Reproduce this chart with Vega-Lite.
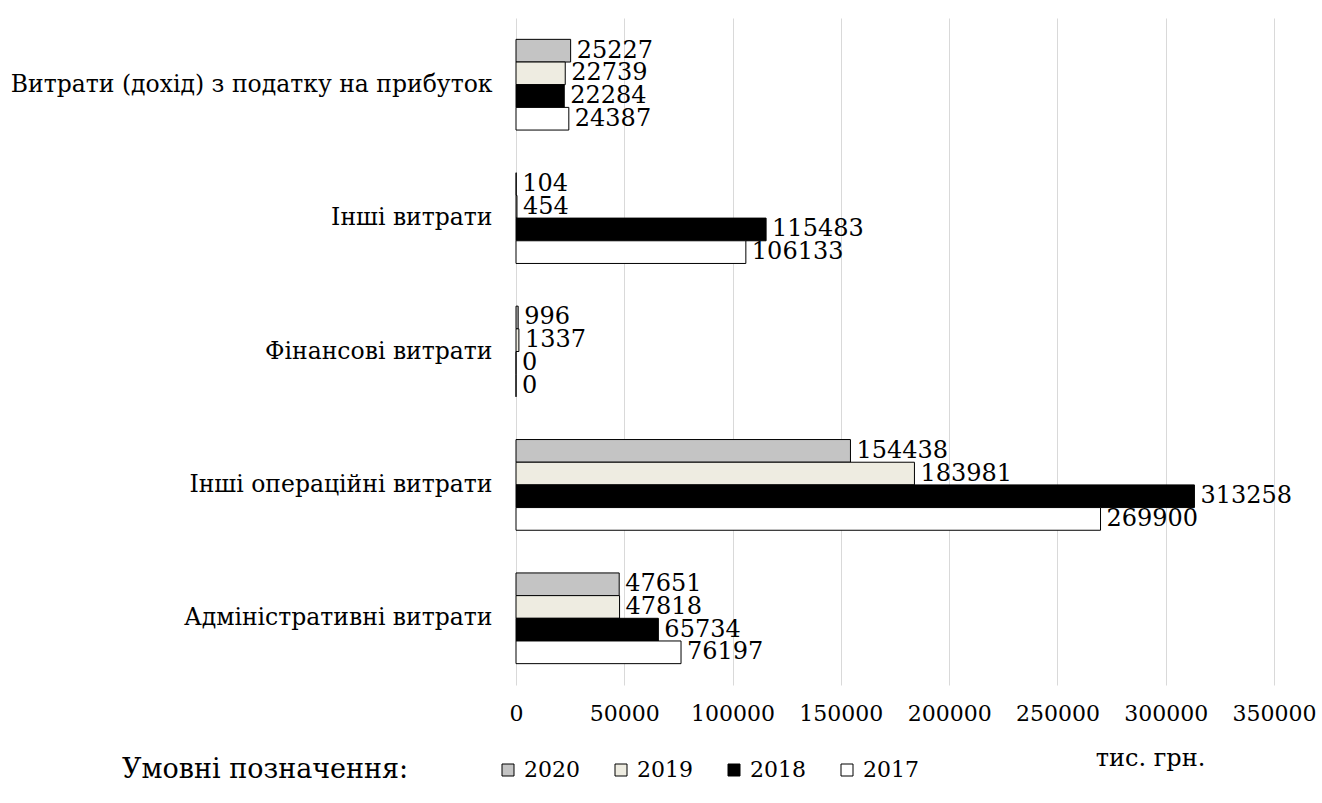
{
  "$schema": "https://vega.github.io/schema/vega-lite/v6.json",
  "width": 758,
  "height": 667,
  "autosize": {"type": "none"},
  "padding": {"left": 516, "top": 18, "right": 48, "bottom": 118},
  "background": "white",
  "config": {
    "font": "DejaVu Serif",
    "view": {"stroke": null}
  },
  "data": {
    "values": [
      {"category": "Витрати (дохід) з податку на прибуток", "year": "2020", "value": 25227},
      {"category": "Витрати (дохід) з податку на прибуток", "year": "2019", "value": 22739},
      {"category": "Витрати (дохід) з податку на прибуток", "year": "2018", "value": 22284},
      {"category": "Витрати (дохід) з податку на прибуток", "year": "2017", "value": 24387},
      {"category": "Інші витрати", "year": "2020", "value": 104},
      {"category": "Інші витрати", "year": "2019", "value": 454},
      {"category": "Інші витрати", "year": "2018", "value": 115483},
      {"category": "Інші витрати", "year": "2017", "value": 106133},
      {"category": "Фінансові витрати", "year": "2020", "value": 996},
      {"category": "Фінансові витрати", "year": "2019", "value": 1337},
      {"category": "Фінансові витрати", "year": "2018", "value": 0},
      {"category": "Фінансові витрати", "year": "2017", "value": 0},
      {"category": "Інші операційні витрати", "year": "2020", "value": 154438},
      {"category": "Інші операційні витрати", "year": "2019", "value": 183981},
      {"category": "Інші операційні витрати", "year": "2018", "value": 313258},
      {"category": "Інші операційні витрати", "year": "2017", "value": 269900},
      {"category": "Адміністративні витрати", "year": "2020", "value": 47651},
      {"category": "Адміністративні витрати", "year": "2019", "value": 47818},
      {"category": "Адміністративні витрати", "year": "2018", "value": 65734},
      {"category": "Адміністративні витрати", "year": "2017", "value": 76197}
    ]
  },
  "encoding": {
    "y": {
      "field": "category",
      "type": "nominal",
      "sort": ["Витрати (дохід) з податку на прибуток", "Інші витрати", "Фінансові витрати", "Інші операційні витрати", "Адміністративні витрати"],
      "scale": {"paddingInner": 0.32, "paddingOuter": 0.16},
      "axis": {"title": null, "domain": false, "ticks": false, "grid": false, "labelFontSize": 23.5, "labelPadding": 24, "labelColor": "black", "labelLimit": 520}
    },
    "yOffset": {
      "field": "year",
      "type": "nominal",
      "sort": ["2020", "2019", "2018", "2017"],
      "scale": {"paddingInner": 0, "paddingOuter": 0}
    },
    "x": {
      "field": "value",
      "type": "quantitative",
      "scale": {"domain": [0, 350000], "nice": false},
      "axis": {
        "values": [0, 50000, 100000, 150000, 200000, 250000, 300000, 350000],
        "format": "d",
        "domain": false,
        "ticks": false,
        "grid": true,
        "gridColor": "#d9d9d9",
        "gridWidth": 1,
        "labelFontSize": 22,
        "labelColor": "black",
        "labelPadding": 18,
        "labelOverlap": false,
        "labelBound": false,
        "labelFlush": false,
        "title": "тис. грн.",
        "titleFontSize": 24,
        "titleFontWeight": "normal",
        "titleColor": "black",
        "titleX": 634,
        "titleY": 73,
        "titleBaseline": "middle"
      }
    }
  },
  "layer": [
    {
      "mark": {"type": "bar", "stroke": "black", "strokeWidth": 1},
      "encoding": {
        "color": {
          "field": "year",
          "type": "nominal",
          "scale": {"domain": ["2020", "2019", "2018", "2017"], "range": ["#c4c4c4", "#eeece1", "#000000", "#ffffff"]},
          "legend": {
            "title": "Умовні позначення:",
            "orient": "none",
            "legendX": -394,
            "legendY": 741,
            "direction": "horizontal",
            "titleOrient": "left",
            "titleFontSize": 27,
            "titleFontWeight": "normal",
            "titleColor": "black",
            "titlePadding": 88,
            "titleLimit": 400,
            "titleBaseline": "middle",
            "labelFontSize": 22,
            "labelColor": "black",
            "labelOffset": 5,
            "symbolType": "square",
            "symbolSize": 144,
            "symbolStrokeColor": "black",
            "symbolStrokeWidth": 1,
            "columnPadding": 30
          }
        }
      }
    },
    {
      "mark": {"type": "text", "align": "left", "baseline": "middle", "dx": 6, "fontSize": 24, "color": "black"},
      "encoding": {"text": {"field": "value", "type": "quantitative", "format": "d"}}
    }
  ]
}
